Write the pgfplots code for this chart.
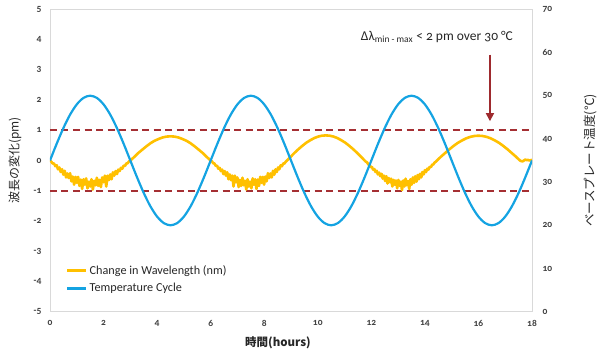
\documentclass[border=0pt]{standalone}
\usepackage{fontspec}
\setmainfont{Carlito}[Numbers=OldStyle]
\newfontfamily\cjk{Noto Sans CJK JP}
\usepackage{pgfplots}
\pgfplotsset{compat=1.18}
\usetikzlibrary{arrows.meta}
\definecolor{wl}{HTML}{FFC000}
\definecolor{tc}{HTML}{14A3E2}
\definecolor{dred}{HTML}{A52F33}
\definecolor{arr}{HTML}{9E2A2E}
\definecolor{tl}{HTML}{404040}
\begin{document}
\begin{tikzpicture}
\pgfplotsset{
  base/.style={
    scale only axis, width=482pt, height=302.4pt,
    xmin=0, xmax=18,
    tick style={draw=none},
    /pgf/number format/assume math mode=true,
    ticklabel style={font=\fontsize{9.5}{11}\selectfont\bfseries, text=tl},
  }
}
\begin{axis}[base,
  ymin=-5, ymax=5,
  xtick={0,2,...,18}, ytick={-5,-4,...,5},
  axis line style={draw=black!15, line width=0.8pt},
  yticklabel style={xshift=-5pt},
  xticklabel style={yshift=-5pt},
  xlabel={\cjk\bfseries 時間(hours)},
  ylabel={\cjk 波長の変化(pm)},
  every axis x label/.style={at={(rel axis cs:0.5,0)}, yshift=-31.5pt, xshift=-13pt, anchor=center, font=\fontsize{11.5}{14}\selectfont, text=black!85},
  every axis y label/.style={at={(rel axis cs:0,0.5)}, xshift=-35pt, rotate=90, anchor=center, font=\fontsize{12}{14}\selectfont, text=black!85},
]
\addplot[dred, line width=2pt, dash pattern=on 7pt off 4.5pt, forget plot] coordinates {(0,1) (18,1)};
\addplot[dred, line width=2pt, dash pattern=on 7pt off 4.5pt, forget plot] coordinates {(0,-1) (18,-1)};
\addplot[wl, line width=2.6pt, line join=round] table {
t w
0.00 0.00
0.05 -0.04
0.10 -0.10
0.15 -0.10
0.20 -0.19
0.25 -0.16
0.30 -0.29
0.35 -0.23
0.40 -0.38
0.45 -0.29
0.50 -0.47
0.55 -0.34
0.60 -0.56
0.65 -0.43
0.70 -0.58
0.75 -0.42
0.80 -0.69
0.85 -0.53
0.90 -0.80
0.95 -0.54
1.00 -0.74
1.05 -0.54
1.10 -0.84
1.15 -0.63
1.20 -0.94
1.25 -0.62
1.30 -0.80
1.35 -0.59
1.40 -0.92
1.45 -0.70
1.50 -0.86
1.55 -0.62
1.60 -0.96
1.65 -0.67
1.70 -0.82
1.75 -0.57
1.80 -0.84
1.85 -0.64
1.90 -0.88
1.95 -0.56
2.00 -0.72
2.05 -0.50
2.10 -0.86
2.15 -0.50
2.20 -0.65
2.25 -0.46
2.30 -0.62
2.35 -0.39
2.40 -0.50
2.45 -0.35
2.50 -0.45
2.55 -0.30
2.60 -0.35
2.65 -0.24
2.70 -0.27
2.75 -0.17
2.80 -0.18
2.85 -0.10
2.90 -0.09
2.95 -0.03
3.00 0.00
3.15 0.12
3.30 0.25
3.45 0.36
3.60 0.47
3.75 0.57
3.90 0.65
4.05 0.71
4.20 0.76
4.35 0.79
4.50 0.80
4.65 0.79
4.80 0.76
4.95 0.71
5.10 0.65
5.25 0.57
5.40 0.47
5.55 0.36
5.70 0.25
5.85 0.12
6.000 0.00
6.048 -0.03
6.095 -0.09
6.143 -0.10
6.190 -0.18
6.238 -0.17
6.285 -0.27
6.333 -0.24
6.380 -0.35
6.428 -0.30
6.475 -0.45
6.523 -0.35
6.570 -0.50
6.618 -0.39
6.665 -0.62
6.713 -0.46
6.760 -0.65
6.808 -0.50
6.855 -0.86
6.903 -0.50
6.950 -0.72
6.998 -0.56
7.045 -0.88
7.093 -0.64
7.140 -0.84
7.188 -0.57
7.235 -0.82
7.283 -0.67
7.330 -0.96
7.378 -0.62
7.425 -0.86
7.473 -0.70
7.520 -0.92
7.568 -0.59
7.615 -0.80
7.663 -0.62
7.710 -0.94
7.758 -0.63
7.805 -0.84
7.853 -0.54
7.900 -0.74
7.948 -0.54
7.995 -0.80
8.043 -0.53
8.090 -0.69
8.138 -0.42
8.185 -0.58
8.233 -0.43
8.280 -0.56
8.328 -0.34
8.375 -0.47
8.423 -0.29
8.470 -0.38
8.518 -0.23
8.565 -0.29
8.613 -0.16
8.660 -0.19
8.708 -0.10
8.755 -0.10
8.803 -0.04
8.850 0.00
8.995 0.13
9.140 0.26
9.285 0.38
9.430 0.49
9.575 0.59
9.720 0.67
9.865 0.74
10.010 0.79
10.155 0.82
10.300 0.83
10.445 0.82
10.590 0.79
10.735 0.74
10.880 0.67
11.025 0.59
11.170 0.49
11.315 0.38
11.460 0.26
11.605 0.13
11.750 0.00
11.795 -0.04
11.840 -0.06
11.885 -0.13
11.930 -0.14
11.975 -0.22
12.020 -0.21
12.065 -0.30
12.110 -0.28
12.155 -0.38
12.200 -0.34
12.245 -0.46
12.290 -0.40
12.335 -0.52
12.380 -0.44
12.425 -0.60
12.470 -0.50
12.515 -0.68
12.560 -0.52
12.605 -0.76
12.650 -0.58
12.695 -0.72
12.740 -0.60
12.785 -0.86
12.830 -0.64
12.875 -0.80
12.920 -0.66
12.965 -0.92
13.010 -0.64
13.055 -0.84
13.100 -0.70
13.145 -0.98
13.190 -0.66
13.235 -0.86
13.280 -0.60
13.325 -0.82
13.370 -0.68
13.415 -0.94
13.460 -0.62
13.505 -0.80
13.550 -0.56
13.595 -0.74
13.640 -0.52
13.685 -0.70
13.730 -0.48
13.775 -0.62
13.820 -0.44
13.865 -0.56
13.910 -0.38
13.955 -0.46
14.000 -0.32
14.045 -0.38
14.090 -0.27
14.135 -0.30
14.180 -0.21
14.225 -0.22
14.270 -0.14
14.315 -0.13
14.360 -0.07
14.405 -0.04
14.450 0.00
14.605 0.13
14.760 0.25
14.915 0.37
15.070 0.48
15.225 0.58
15.380 0.66
15.535 0.73
15.690 0.78
15.845 0.81
16.000 0.82
16.155 0.81
16.310 0.78
16.465 0.73
16.620 0.66
16.775 0.58
16.930 0.48
17.085 0.37
17.240 0.25
17.395 0.13
17.550 0.00
17.600 -0.02
17.650 -0.03
17.700 0.00
17.750 0.03
17.800 0.01
17.850 0.02
17.900 0.00
17.950 0.01
18.000 0.02
};
\node[font=\fontsize{13.5}{15}\selectfont, text=black!85] at (axis cs:14.45,4.09) {Δλ\textsubscript{min - max} < 2 pm over 30 °C};
\draw[arr, line width=1.6pt, -{Triangle[width=8pt,length=8pt]}] (axis cs:16.43,3.5) -- (axis cs:16.43,1.3);
\end{axis}
\begin{axis}[base,
  ymin=0, ymax=70,
  ytick={0,10,...,70},
  axis y line*=right, axis x line=none,
  axis line style={draw=none},
  yticklabel style={xshift=7pt},
  ylabel={\cjk ベースプレート温度(℃)},
  every axis y label/.style={at={(rel axis cs:1,0.5)}, xshift=58pt, rotate=90, anchor=center, font=\fontsize{12.5}{14}\selectfont, text=black!85},
  legend style={at={(rel axis cs:0.031,0.168)}, anchor=north west, draw=none, fill=none,
    font=\fontsize{12.2}{14}\selectfont, text=black!85, row sep=4pt, inner xsep=1pt},
  legend cell align=left,
  legend image code/.code={\draw[#1] (0pt,0pt) -- (19pt,0pt);},
]
\addlegendimage{wl, line width=2.6pt}
\addlegendentry{Change in Wavelength (nm)}
\addplot[tc, line width=2.2pt, smooth] coordinates {
(0,35) (0.25,38.88) (0.5,42.5) (0.75,45.61) (1,47.99) (1.25,49.49) (1.5,50) (1.75,49.49) (2,47.99) (2.25,45.61) (2.5,42.5) (2.75,38.88)
(3,35) (3.25,31.12) (3.5,27.5) (3.75,24.39) (4,22.01) (4.25,20.51) (4.5,20) (4.75,20.51) (5,22.01) (5.25,24.39) (5.5,27.5) (5.75,31.12)
(6,35) (6.25,38.88) (6.5,42.5) (6.75,45.61) (7,47.99) (7.25,49.49) (7.5,50) (7.75,49.49) (8,47.99) (8.25,45.61) (8.5,42.5) (8.75,38.88)
(9,35) (9.25,31.12) (9.5,27.5) (9.75,24.39) (10,22.01) (10.25,20.51) (10.5,20) (10.75,20.51) (11,22.01) (11.25,24.39) (11.5,27.5) (11.75,31.12)
(12,35) (12.25,38.88) (12.5,42.5) (12.75,45.61) (13,47.99) (13.25,49.49) (13.5,50) (13.75,49.49) (14,47.99) (14.25,45.61) (14.5,42.5) (14.75,38.88)
(15,35) (15.25,31.12) (15.5,27.5) (15.75,24.39) (16,22.01) (16.25,20.51) (16.5,20) (16.75,20.51) (17,22.01) (17.25,24.39) (17.5,27.5) (17.75,31.12)
(18,35)
};
\addlegendentry{Temperature Cycle}
\end{axis}
\pgfresetboundingbox
\path ([shift={(-50pt,-45.3pt)}]current axis.south west) rectangle ([shift={(68pt,9.3pt)}]current axis.north east);
\end{tikzpicture}
\end{document}
